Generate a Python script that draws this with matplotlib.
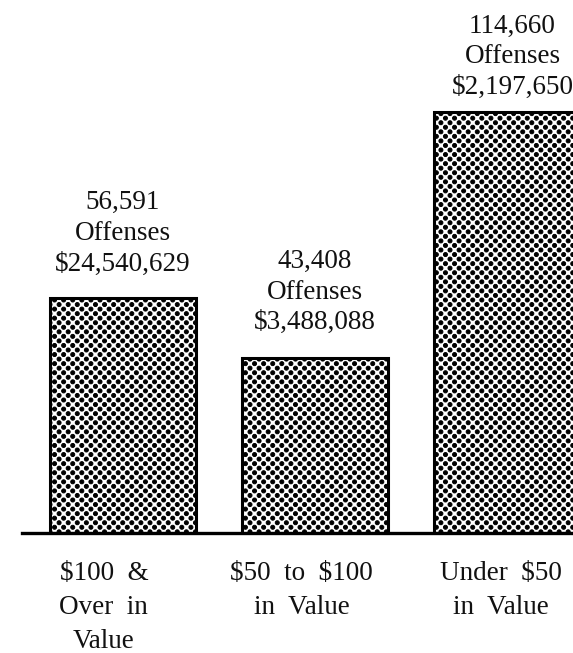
import numpy as np
import matplotlib.pyplot as plt
from matplotlib import hatch as mhatch
from matplotlib.path import Path

plt.rcParams['font.family'] = ['Liberation Serif', 'DejaVu Serif']
plt.rcParams['hatch.linewidth'] = 0.7

# Data
categories = ['$100  &\nOver  in\nValue', '$50  to  $100\nin  Value', 'Under  $50\nin  Value']
offenses = [56591, 43408, 114660]
values = ['$24,540,629', '$3,488,088', '$2,197,650']
# bar heights as drawn in the picture (the last bar is not to scale)
drawn_height = [56591, 42100, 101400]


# dot screen like the printed original: staggered rows, twice as many rows as columns
class DotScreen(mhatch.Shapes):
    filled = True
    radius = 0.02

    def __init__(self, hatch, density):
        circle = Path.unit_circle()
        self.shape_vertices = circle.vertices
        self.shape_codes = circle.codes
        self.ncols = 11 if '.' in hatch else 0
        self.nrows = 2 * self.ncols
        if self.ncols == 0:
            self.num_shapes = 0
        else:
            self.num_shapes = ((self.nrows // 2 + 1) * (self.ncols + 1)
                               + (self.nrows // 2) * self.ncols)
        self.num_vertices = self.num_shapes * len(self.shape_vertices)

    def set_vertices_and_codes(self, vertices, codes):
        step = 1.0 / self.ncols
        shape = self.shape_vertices * self.radius
        vparts, cparts = [], []
        for row in range(self.nrows + 1):
            if row % 2 == 0:
                cols = np.linspace(0, 1, self.ncols + 1)
            else:
                cols = np.linspace(step / 2, 1 - step / 2, self.ncols)
            for c in cols:
                vparts.append(shape + [c, row / self.nrows])
                cparts.append(self.shape_codes)
        np.concatenate(vparts, out=vertices)
        np.concatenate(cparts, out=codes)


mhatch._hatch_types = [DotScreen if t is mhatch.SmallFilledCircles else t
                       for t in mhatch._hatch_types]

x = [0, 1, 2]
label_shift = [-0.1, -0.07, -0.03]
top_gap = [15.5, 16.5, 8.5]
top_shift = [0, 0, 4]

fig = plt.figure(figsize=(5.73, 6.53), dpi=100)
ax = fig.add_axes([0, 120 / 653, 1, 533 / 653])

ax.bar(x, drawn_height, width=0.76, color='white', edgecolor='black',
       linewidth=2.2, hatch='.', zorder=2)

ax.axhline(0, xmin=0.038, xmax=1, color='black', linewidth=2.4, zorder=3,
           clip_on=False)

for i in range(3):
    txt = f'{offenses[i]:,}\nOffenses\n{values[i]}'
    ax.annotate(txt, (x[i], drawn_height[i]), xytext=(top_shift[i], top_gap[i]),
                textcoords='offset points', ha='center', va='bottom',
                fontsize=19.5, linespacing=1.3, color='#111111',
                parse_math=False)
    ax.annotate(categories[i], (x[i] + label_shift[i], 0), xytext=(0, -20),
                textcoords='offset points', ha='center', va='top',
                fontsize=19.5, linespacing=1.48, color='#111111',
                parse_math=False)

ax.set_xlim(-0.641, 2.344)
ax.set_ylim(0, 128350)
ax.axis('off')

fig.savefig('out.png', dpi=100)
